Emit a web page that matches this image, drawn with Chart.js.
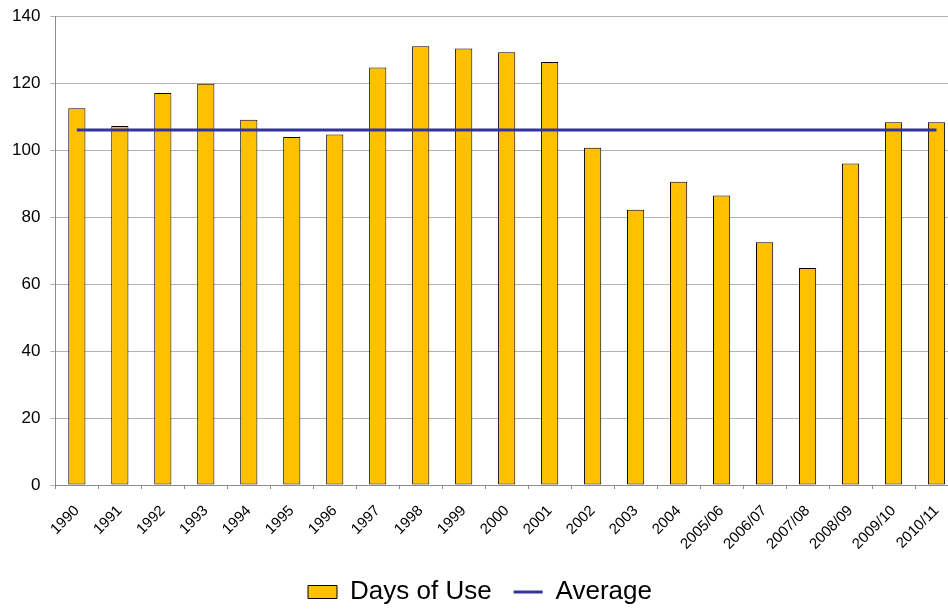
<!DOCTYPE html>
<html>
<head>
<meta charset="utf-8">
<script src="https://cdn.jsdelivr.net/npm/chart.js@4"></script>
<style>
  html, body { margin: 0; padding: 0; background: #fff; overflow: hidden; }
  #wrap { width: 948px; height: 609px; overflow: hidden; }
</style>
</head>
<body>
<div id="wrap"><canvas id="chart" width="968" height="609"></canvas></div>
<script>
// categories (years / seasons)
const years = ['1990', '1991', '1992', '1993', '1994', '1995', '1996', '1997', '1998', '1999',
    '2000', '2001', '2002', '2003', '2004', '2005/06', '2006/07', '2007/08', '2008/09',
    '2009/10', '2010/11'];

// days of use
const daysOfUse = [112.5, 107.2, 117.0, 119.8, 109.0, 103.9, 104.6, 124.6, 131.0, 130.3,
    129.2, 126.3, 100.7, 82.2, 90.5, 86.4, 72.5, 64.8, 96.0, 108.3, 108.3];

// average line (flat)
const average = [106, 106, 106, 106, 106, 106, 106, 106, 106, 106,
    106, 106, 106, 106, 106, 106, 106, 106, 106, 106, 106];

const yTicks = [0, 20, 40, 60, 80, 100, 120, 140];

const gridColor = '#b3b3b3';
const axisColor = '#8c8c8c';
const font = 'Liberation Sans, Arial, sans-serif';

const ctx = document.getElementById('chart');
const chart = new Chart(ctx, {
    type: 'bar',
    data: {
        labels: years,
        datasets: [{
            type: 'bar',
            label: 'Days of Use',
            data: daysOfUse,
            backgroundColor: '#FFC000',
            borderColor: '#000000',
            borderWidth: 1,
            borderSkipped: false,
            barPercentage: 0.4,
            categoryPercentage: 1.0,
            pointStyle: 'rect',
            order: 2
        }, {
            type: 'line',
            label: 'Average',
            data: average,
            borderColor: '#333399',
            backgroundColor: '#333399',
            borderWidth: 3,
            pointRadius: 0,
            pointStyle: 'line',
            fill: false,
            order: 1
        }]
    },
    options: {
        responsive: false,
        animation: false,
        layout: {
            padding: { left: 2, right: 10, top: 16, bottom: -6 }
        },
        plugins: {
            tooltip: { enabled: false },
            legend: {
                position: 'bottom',
                labels: {
                    usePointStyle: true,
                    pointStyleWidth: 29,
                    boxHeight: 13,
                    padding: 22,
                    color: '#000',
                    font: { family: font, size: 26 },
                    sort: (a, b) => a.datasetIndex - b.datasetIndex
                }
            }
        },
        scales: {
            x: {
                offset: true,
                afterFit: (scale) => {
                    scale.height = 72;
                },
                grid: {
                    offset: true,
                    drawOnChartArea: false,
                    drawTicks: true,
                    tickLength: 4,
                    color: axisColor
                },
                border: { color: axisColor, width: 1 },
                ticks: {
                    autoSkip: false,
                    minRotation: 45,
                    maxRotation: 45,
                    padding: 13,
                    color: '#000',
                    font: { family: font, size: 15 }
                }
            },
            y: {
                min: 0,
                max: 140,
                afterBuildTicks: (scale) => {
                    scale.ticks = yTicks.map(v => ({ value: v }));
                },
                afterFit: (scale) => {
                    scale.paddingTop = 0;
                },
                grid: {
                    color: gridColor,
                    lineWidth: 1,
                    tickLength: 5
                },
                border: { color: axisColor, width: 1 },
                ticks: {
                    padding: 10,
                    color: '#000',
                    font: { family: font, size: 17 }
                }
            }
        }
    }
});
</script>
</body>
</html>
